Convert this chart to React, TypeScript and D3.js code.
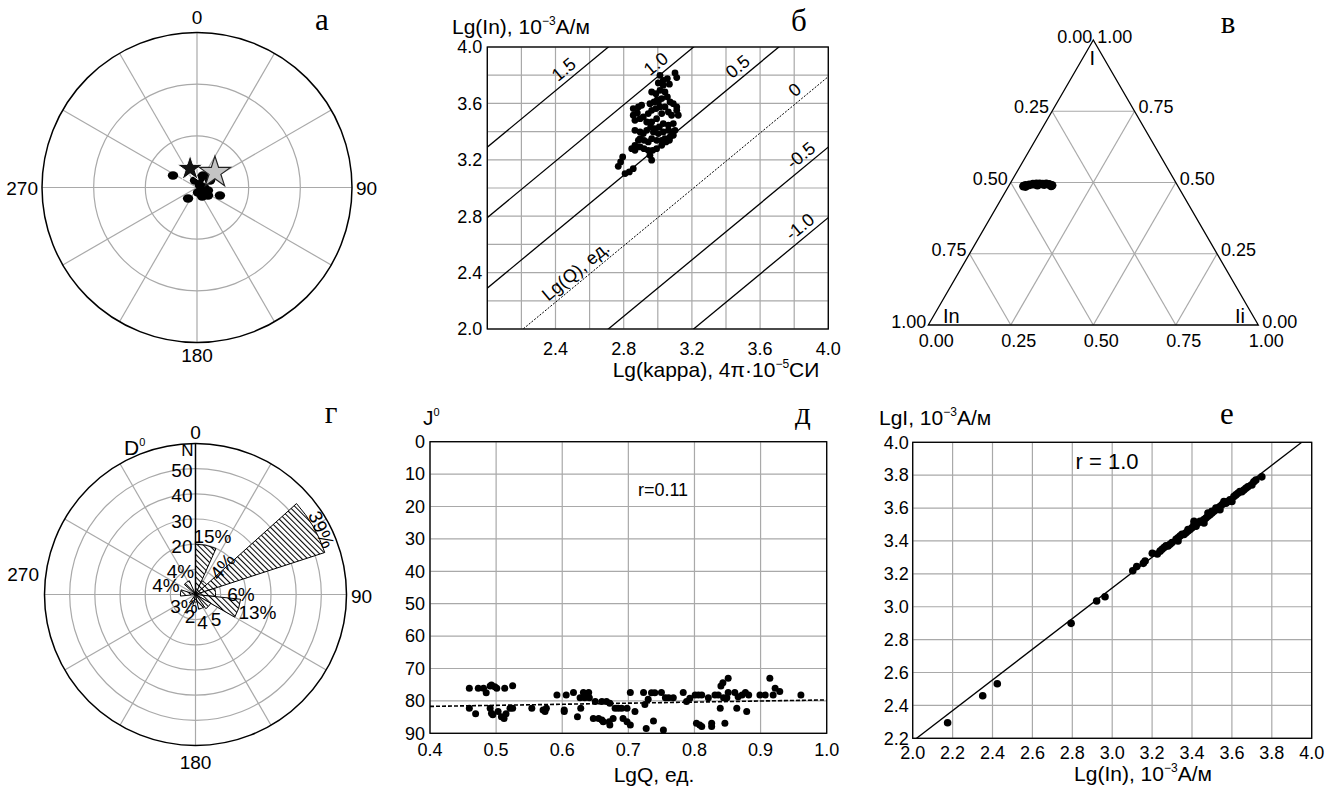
import React from 'react';
import * as d3 from 'd3';

const SANS = '"Liberation Sans", Arial, Helvetica, sans-serif';
const SERIF = '"Liberation Serif", "Times New Roman", serif';
const GRID = '#a9a9a9';
const FS = 18;

// ---------- а : directions (declination / inclination)
const aDec = [296.6, 219.3, 168.7, 105.3, 126, 109.2, 344, 26.6, 56, 61.7, 18, 90, 150, 135];
const aInc = [74.4, 81.8, 87, 83.4, 82.1, 75.9, 85.8, 82.2, 87.9, 81.4, 84.5, 85.9, 84, 86.5];
const aMeanDec = [340, 50];
const aMeanInc = [78.3, 76.4];
const aAngleTicks = [0, 90, 180, 270];

// ---------- б : Lg(In) vs Lg(kappa)
const bKappa = [3.101, 3.111, 3.056, 3.068, 3.032, 3.003, 3.013, 2.989, 2.964, 3.042, 3.056, 3.023, 2.997, 2.978, 2.954, 3.072, 3.091, 3.111, 3.042, 3.013, 2.989, 2.964, 2.944, 2.905, 2.886, 2.856, 2.88, 2.856, 2.866, 2.896, 2.915, 2.935, 2.964, 2.993, 3.023, 3.062, 3.081, 3.111, 3.12, 3.091, 3.062, 3.032, 3.009, 2.983, 2.958, 2.935, 2.915, 2.896, 2.866, 2.974, 3.003, 3.032, 3.062, 3.081, 3.072, 3.042, 3.023, 2.993, 2.964, 2.944, 2.919, 2.896, 2.886, 2.866, 2.847, 2.866, 2.896, 2.919, 2.944, 2.97, 2.993, 3.023, 3.048, 3.068, 3.091, 3.101, 2.954, 2.964, 2.794, 2.782, 2.768, 2.808, 2.833, 2.856, 3.003, 3.013, 3.032];
const bIn = [3.816, 3.783, 3.776, 3.736, 3.728, 3.745, 3.693, 3.669, 3.681, 3.681, 3.646, 3.634, 3.627, 3.61, 3.598, 3.61, 3.598, 3.575, 3.575, 3.575, 3.563, 3.551, 3.528, 3.587, 3.575, 3.563, 3.532, 3.516, 3.48, 3.492, 3.504, 3.468, 3.468, 3.492, 3.528, 3.539, 3.516, 3.551, 3.516, 3.457, 3.445, 3.457, 3.433, 3.421, 3.433, 3.409, 3.386, 3.397, 3.409, 3.397, 3.386, 3.397, 3.409, 3.397, 3.362, 3.35, 3.338, 3.338, 3.35, 3.327, 3.338, 3.35, 3.338, 3.303, 3.279, 3.267, 3.291, 3.279, 3.267, 3.267, 3.279, 3.303, 3.327, 3.338, 3.374, 3.409, 3.232, 3.197, 3.22, 3.185, 3.154, 3.102, 3.114, 3.137, 3.61, 3.799, 3.764];
const bQValues = [1.5, 1.0, 0.5, 0, -0.5, -1.0];
const bQLabels = ['1.5', '1.0', '0.5', '0', '-0.5', '-1.0'];
const bQOffset = -0.21;
const bYTicks = [2.0, 2.4, 2.8, 3.2, 3.6, 4.0];
const bXTicks = [2.4, 2.8, 3.2, 3.6, 4.0];

// ---------- в : ternary (I, In, Ii)
const vI = [0.487, 0.49, 0.492, 0.494, 0.495, 0.495, 0.494, 0.495, 0.493, 0.49, 0.488, 0.486, 0.491, 0.493];
const vIi = [0.045, 0.05, 0.06, 0.07, 0.08, 0.09, 0.1, 0.11, 0.12, 0.13, 0.128, 0.052, 0.085, 0.105];
const vTicks = [0, 0.25, 0.5, 0.75, 1];

// ---------- г : rose of declinations (24° bins, counts)
const roseBinStart = [0, 24, 48, 72, 96, 120, 144, 168, 192, 216, 240, 264, 288, 312, 336];
const roseCounts = [20, 6, 54, 8, 18, 7, 6, 3, 4, 0, 0, 6, 0, 6, 0];
const roseLabels = ['15%', '4%', '39%', '6%', '13%', '5', '4', '2', '3%', '', '', '4%', '', '4%', ''];
const roseRings = [10, 20, 30, 40, 50];
const roseMax = 60;

// ---------- д : J vs LgQ
const dQ = [0.4595, 0.4595, 0.469, 0.473, 0.481, 0.485, 0.491, 0.493, 0.498, 0.501, 0.491, 0.493, 0.495, 0.503, 0.508, 0.512, 0.513, 0.515, 0.521, 0.525, 0.525, 0.554, 0.571, 0.574, 0.576, 0.592, 0.603, 0.603, 0.606, 0.617, 0.623, 0.627, 0.628, 0.632, 0.634, 0.637, 0.64, 0.641, 0.647, 0.65, 0.655, 0.66, 0.66, 0.662, 0.667, 0.671, 0.672, 0.672, 0.677, 0.68, 0.685, 0.69, 0.692, 0.698, 0.698, 0.703, 0.703, 0.71, 0.723, 0.725, 0.727, 0.73, 0.735, 0.738, 0.74, 0.75, 0.753, 0.756, 0.761, 0.768, 0.783, 0.788, 0.793, 0.801, 0.803, 0.806, 0.808, 0.811, 0.811, 0.821, 0.826, 0.826, 0.831, 0.836, 0.839, 0.84, 0.843, 0.844, 0.846, 0.849, 0.851, 0.851, 0.861, 0.864, 0.866, 0.872, 0.877, 0.879, 0.882, 0.899, 0.907, 0.914, 0.919, 0.922, 0.929, 0.961];
const dJ = [76.1, 82.3, 84.0, 76.1, 76.1, 77.5, 75.4, 75.1, 75.6, 76.1, 82.3, 83.8, 84.3, 83.3, 84.9, 85.4, 76.1, 84.0, 82.3, 82.3, 75.3, 82.3, 82.8, 83.3, 82.3, 78.2, 82.8, 83.3, 78.2, 77.4, 84.9, 79.0, 82.3, 77.4, 79.0, 78.2, 77.4, 79.0, 85.4, 80.2, 85.4, 80.2, 85.9, 86.4, 80.2, 86.4, 87.4, 80.7, 85.4, 82.3, 82.3, 82.3, 85.4, 82.3, 86.4, 77.4, 87.4, 83.3, 77.4, 81.1, 88.5, 79.5, 77.5, 86.2, 77.5, 77.4, 89.0, 79.0, 79.0, 79.0, 77.4, 80.2, 79.2, 78.2, 86.9, 78.2, 87.4, 78.2, 87.9, 79.0, 86.9, 87.9, 78.2, 78.2, 82.3, 75.4, 74.4, 79.0, 86.9, 79.0, 73.0, 77.4, 77.4, 82.3, 78.7, 78.2, 77.4, 83.3, 78.2, 78.2, 78.2, 73.0, 78.2, 76.1, 77.1, 78.2];
const dFitQ = [0.4, 1.0];
const dFitJ = [81.7, 79.7];
const dXTicks = [0.4, 0.5, 0.6, 0.7, 0.8, 0.9, 1.0];
const dYTicks = [0, 10, 20, 30, 40, 50, 60, 70, 80, 90];

// ---------- е : LgI vs Lg(In)
const eIn = [2.175, 2.351, 2.424, 2.794, 2.922, 2.964, 3.103, 3.123, 3.156, 3.165, 3.201, 3.226, 3.24, 3.25, 3.26, 3.27, 3.28, 3.29, 3.3, 3.32, 3.33, 3.33, 3.34, 3.35, 3.36, 3.37, 3.38, 3.38, 3.39, 3.4, 3.41, 3.41, 3.42, 3.43, 3.44, 3.45, 3.46, 3.46, 3.47, 3.48, 3.48, 3.49, 3.5, 3.5, 3.51, 3.52, 3.52, 3.53, 3.54, 3.54, 3.55, 3.56, 3.56, 3.57, 3.58, 3.59, 3.6, 3.61, 3.62, 3.63, 3.64, 3.65, 3.66, 3.67, 3.68, 3.7, 3.71, 3.72, 3.75];
const eI = [2.295, 2.459, 2.532, 2.899, 3.035, 3.061, 3.219, 3.244, 3.264, 3.278, 3.325, 3.321, 3.338, 3.35, 3.36, 3.37, 3.37, 3.38, 3.39, 3.41, 3.42, 3.4, 3.43, 3.44, 3.44, 3.45, 3.46, 3.47, 3.47, 3.48, 3.5, 3.52, 3.49, 3.51, 3.52, 3.52, 3.53, 3.51, 3.54, 3.55, 3.57, 3.56, 3.57, 3.58, 3.58, 3.59, 3.6, 3.6, 3.61, 3.59, 3.62, 3.63, 3.64, 3.63, 3.64, 3.65, 3.64, 3.67, 3.68, 3.69, 3.7, 3.7, 3.71, 3.72, 3.73, 3.74, 3.76, 3.77, 3.79];
const eFitX = [2.0, 3.95];
const eFitY = [2.182, 4.0];
const eXTicks = [2.0, 2.2, 2.4, 2.6, 2.8, 3.0, 3.2, 3.4, 3.6, 3.8, 4.0];
const eYTicks = [2.2, 2.4, 2.6, 2.8, 3.0, 3.2, 3.4, 3.6, 3.8, 4.0];

const fmt1 = d3.format('.1f');
const fmt2 = d3.format('.2f');

function Letter({ x, y, t }: { x: number; y: number; t: string }) {
  return <text x={x} y={y} fontFamily={SERIF} fontSize={31} textAnchor="middle">{t}</text>;
}

function PanelA() {
  const cx = 197, cy = 187.5, R = 155;
  const r = d3.scaleLinear().domain([0, 90]).range([0, R]);
  const pos = (dec: number, inc: number) => {
    const rr = r(90 - inc);
    const a = (dec * Math.PI) / 180;
    return [cx + rr * Math.sin(a), cy - rr * Math.cos(a)];
  };
  const spokes = d3.range(0, 360, 30);
  const starBlack = d3.symbol(d3.symbolStar, 210)()!;
  const starGray = d3.symbol(d3.symbolStar, 300)()!;
  const mb = pos(aMeanDec[0], aMeanInc[0]);
  const mg = pos(aMeanDec[1], aMeanInc[1]);
  const labelPos: Record<number, [number, number, string]> = {
    0: [cx, 24, 'middle'], 90: [356, cy + 7, 'start'], 180: [cx, 362, 'middle'], 270: [38, cy + 7, 'end'],
  };
  return (
    <g>
      {spokes.map((s) => {
        const a = (s * Math.PI) / 180;
        return <line key={s} x1={cx} y1={cy} x2={cx + R * Math.sin(a)} y2={cy - R * Math.cos(a)} stroke={GRID} strokeWidth={1.2} />;
      })}
      {[R / 3, (2 * R) / 3].map((rr) => <circle key={rr} cx={cx} cy={cy} r={rr} fill="none" stroke={GRID} strokeWidth={1.2} />)}
      <circle cx={cx} cy={cy} r={R} fill="none" stroke="#000" strokeWidth={1.5} />
      {aDec.map((d, i) => {
        const [x, y] = pos(d, aInc[i]);
        return <ellipse key={i} cx={x} cy={y} rx={5.2} ry={4.2} fill="#000" />;
      })}
      <path d={starBlack} transform={`translate(${mb[0]},${mb[1]})`} fill="#111" stroke="#fff" strokeWidth={1} />
      <path d={starGray} transform={`translate(${mg[0]},${mg[1]})`} fill="#c4c4c4" stroke="#222" strokeWidth={1.2} />
      {aAngleTicks.map((t) => {
        const [x, y, anc] = labelPos[t];
        return <text key={t} x={x} y={y} fontFamily={SANS} fontSize={19} textAnchor={anc as any}>{t}</text>;
      })}
      <Letter x={322} y={30} t="а" />
    </g>
  );
}

function PanelB() {
  const x0 = 487.3, x1 = 828.3, y0 = 329, y1 = 47;
  const x = d3.scaleLinear().domain([2, 4]).range([x0, x1]);
  const y = d3.scaleLinear().domain([2, 4]).range([y0, y1]);
  const grid = d3.range(2, 4.001, 0.2);
  const ang = (-Math.atan((y(2) - y(3)) / (x(3) - x(2))) * 180) / Math.PI;
  const labelX = [2.49, 3.03, 3.51, 3.845, 3.88, 3.875];
  return (
    <g>
      <defs>
        <clipPath id="clipB"><rect x={x0} y={y1} width={x1 - x0} height={y0 - y1} /></clipPath>
      </defs>
      {grid.map((g) => <line key={'v' + g} x1={x(g)} x2={x(g)} y1={y1} y2={y0} stroke={GRID} strokeWidth={1.2} />)}
      {grid.map((g) => <line key={'h' + g} x1={x0} x2={x1} y1={y(g)} y2={y(g)} stroke={GRID} strokeWidth={1.2} />)}
      <g clipPath="url(#clipB)">
        {bQValues.map((q) => (
          <line key={q} x1={x(1.5)} y1={y(1.5 + q + bQOffset)} x2={x(4.5)} y2={y(4.5 + q + bQOffset)}
            stroke="#000" strokeWidth={q === 0 ? 1 : 1.3} strokeDasharray={q === 0 ? '2,1.5' : undefined} />
        ))}
      </g>
      <rect x={x0} y={y1} width={x1 - x0} height={y0 - y1} fill="none" stroke="#000" strokeWidth={1.3} />
      {bQValues.map((q, i) => {
        const lx = x(labelX[i]);
        const ly = y(labelX[i] + q + bQOffset);
        return (
          <text key={q} transform={`translate(${lx},${ly}) rotate(${ang})`} dy={-5} textAnchor="middle" fontFamily={SANS} fontSize={FS}>{bQLabels[i]}</text>
        );
      })}
      <text transform={`translate(${x(2.56)},${y(2.56 + bQOffset)}) rotate(${ang})`} dy={-5} textAnchor="middle" fontFamily={SANS} fontSize={FS}>Lg(Q), ед.</text>
      {bKappa.map((k, i) => <circle key={i} cx={x(k)} cy={y(bIn[i])} r={3.4} fill="#000" />)}
      {bYTicks.map((t) => <text key={t} x={x0 - 5} y={y(t)} dy="0.35em" textAnchor="end" fontFamily={SANS} fontSize={FS}>{fmt1(t)}</text>)}
      {bXTicks.map((t) => <text key={t} x={x(t)} y={y0 + 26} textAnchor="middle" fontFamily={SANS} fontSize={FS}>{fmt1(t)}</text>)}
      <text x={452} y={34} fontFamily={SANS} fontSize={21}>Lg(In), 10<tspan fontSize={12} dy={-9}>−3</tspan><tspan dy={9}>A/м</tspan></text>
      <text x={716} y={377} textAnchor="middle" fontFamily={SANS} fontSize={21}>Lg(kappa), 4π·10<tspan fontSize={12} dy={-9}>−5</tspan><tspan dy={9}>СИ</tspan></text>
      <Letter x={799} y={31} t="б" />
    </g>
  );
}

function PanelV() {
  const A = [1093.3, 40], BL = [928.3, 325], BR = [1258.3, 325];
  const P = (I: number, In: number, Ii: number) => [I * A[0] + In * BL[0] + Ii * BR[0], I * A[1] + In * BL[1] + Ii * BR[1]];
  const inner = [0.25, 0.5, 0.75];
  const lines: number[][][] = [];
  inner.forEach((t) => {
    lines.push([P(t, 1 - t, 0), P(t, 0, 1 - t)]);
    lines.push([P(1 - t, t, 0), P(0, t, 1 - t)]);
    lines.push([P(1 - t, 0, t), P(0, 1 - t, t)]);
  });
  return (
    <g>
      {lines.map((l, i) => <line key={i} x1={l[0][0]} y1={l[0][1]} x2={l[1][0]} y2={l[1][1]} stroke={GRID} strokeWidth={1.2} />)}
      <path d={`M${A[0]},${A[1]}L${BL[0]},${BL[1]}L${BR[0]},${BR[1]}Z`} fill="none" stroke="#000" strokeWidth={1.3} />
      {vI.map((I, i) => {
        const [px, py] = P(I, 1 - I - vIi[i], vIi[i]);
        return <circle key={i} cx={px} cy={py} r={4.4} fill="#000" />;
      })}
      {vTicks.filter((t) => t > 0 && t < 1).map((t) => {
        const [px, py] = P(1 - t, t, 0);
        return <text key={'l' + t} x={px - 3} y={py + 2} textAnchor="end" fontFamily={SANS} fontSize={FS}>{fmt2(t)}</text>;
      })}
      {vTicks.filter((t) => t > 0 && t < 1).map((t) => {
        const [px, py] = P(t, 0, 1 - t);
        return <text key={'r' + t} x={px + 4} y={py + 2} textAnchor="start" fontFamily={SANS} fontSize={FS}>{fmt2(t)}</text>;
      })}
      {vTicks.map((t) => {
        const [px, py] = P(0, 1 - t, t);
        return <text key={'b' + t} x={px + 8} y={py + 22} textAnchor="middle" fontFamily={SANS} fontSize={FS}>{fmt2(t)}</text>;
      })}
      <text x={BL[0] - 2} y={BL[1] + 3} textAnchor="end" fontFamily={SANS} fontSize={FS}>{fmt2(1)}</text>
      <text x={BR[0] + 4} y={BR[1] + 3} textAnchor="start" fontFamily={SANS} fontSize={FS}>{fmt2(0)}</text>
      <text x={A[0] - 1} y={43} textAnchor="end" fontFamily={SANS} fontSize={FS}>{fmt2(0)}</text>
      <text x={A[0] + 4} y={43} textAnchor="start" fontFamily={SANS} fontSize={FS}>{fmt2(1)}</text>
      <text x={A[0] - 1} y={65} textAnchor="middle" fontFamily={SANS} fontSize={20}>I</text>
      <text x={943} y={323} fontFamily={SANS} fontSize={20}>In</text>
      <text x={1235} y={323} fontFamily={SANS} fontSize={20}>Ii</text>
      <Letter x={1228} y={33} t="в" />
    </g>
  );
}

function PanelG() {
  const cx = 195.5, cy = 594.5;
  const r = d3.scaleLinear().domain([0, roseMax]).range([0, 151]);
  const arc = d3.arc<any>();
  const spokes = d3.range(30, 360, 30);
  const labelLayout: [number, number, number][] = [
    [17, -58, 0], [27, -28, -50], [126, -65, 66], [45.5, 0, 0], [62, 18, 0], [20.5, 24.5, 0], [7, 28, 0], [-5.5, 22, 0], [-11.5, 11.5, 0], [0, 0, 0], [0, 0, 0], [-29.5, -9, 0], [0, 0, 0], [-15, -23, 0], [0, 0, 0],
  ];
  return (
    <g>
      <defs>
        <pattern id="hatch" patternUnits="userSpaceOnUse" width={4} height={4} patternTransform="rotate(-45)">
          <rect width={4} height={4} fill="#fff" />
          <line x1={0.5} y1={0} x2={0.5} y2={4} stroke="#000" strokeWidth={1.1} />
        </pattern>
      </defs>
      {spokes.map((s) => {
        const a = (s * Math.PI) / 180;
        return <line key={s} x1={cx} y1={cy} x2={cx + r(roseMax) * Math.sin(a)} y2={cy - r(roseMax) * Math.cos(a)} stroke={GRID} strokeWidth={1.2} />;
      })}
      {roseRings.map((v) => <circle key={v} cx={cx} cy={cy} r={r(v)} fill="none" stroke={GRID} strokeWidth={1.2} />)}
      <circle cx={cx} cy={cy} r={r(roseMax)} fill="none" stroke="#000" strokeWidth={1.5} />
      <g transform={`translate(${cx},${cy})`}>
        {roseBinStart.map((s, i) => roseCounts[i] > 0 ? (
          <path key={s} d={arc({ innerRadius: 0, outerRadius: r(roseCounts[i]), startAngle: (s * Math.PI) / 180, endAngle: ((s + 24) * Math.PI) / 180 })!}
            fill="url(#hatch)" stroke="#000" strokeWidth={1} />
        ) : null)}
      </g>
      <line x1={cx} y1={cy} x2={cx} y2={cy - r(roseMax)} stroke="#000" strokeWidth={1.5} />
      {roseRings.filter((v) => v >= 20).map((v) => (
        <text key={v} x={cx - 3} y={cy - r(v) + 2} dy="0.35em" textAnchor="end" fontFamily={SANS} fontSize={19}>{v}</text>
      ))}
      {roseLabels.map((l, i) => l ? (
        <text key={i} transform={`translate(${cx + labelLayout[i][0]},${cy + labelLayout[i][1]}) rotate(${labelLayout[i][2]})`} dy="0.35em" textAnchor="middle" fontFamily={SANS} fontSize={19}>{l}</text>
      ) : null)}
      <text x={cx - 8} y={456} textAnchor="middle" fontFamily={SANS} fontSize={17}>N</text>
      <text x={124} y={455} fontFamily={SANS} fontSize={21}>D<tspan fontSize={11} dy={-9}>0</tspan></text>
      <text x={cx} y={439} textAnchor="middle" fontFamily={SANS} fontSize={19}>0</text>
      <text x={351} y={603} fontFamily={SANS} fontSize={19}>90</text>
      <text x={cx} y={769} textAnchor="middle" fontFamily={SANS} fontSize={19}>180</text>
      <text x={39} y={581} textAnchor="end" fontFamily={SANS} fontSize={19}>270</text>
      <Letter x={331} y={423} t="г" />
    </g>
  );
}

function PanelD() {
  const x0 = 430, x1 = 826.7, y0 = 441.7, y1 = 733.3;
  const x = d3.scaleLinear().domain([0.4, 1.0]).range([x0, x1]);
  const y = d3.scaleLinear().domain([0, 90]).range([y0, y1]);
  const line = d3.line<number>().x((_, i) => x(dFitQ[i])).y((d) => y(d));
  return (
    <g>
      {dXTicks.map((t) => <line key={'v' + t} x1={x(t)} x2={x(t)} y1={y0} y2={y1} stroke={GRID} strokeWidth={1.2} />)}
      {dYTicks.map((t) => <line key={'h' + t} x1={x0} x2={x1} y1={y(t)} y2={y(t)} stroke={GRID} strokeWidth={1.2} />)}
      <rect x={x0} y={y0} width={x1 - x0} height={y1 - y0} fill="none" stroke="#000" strokeWidth={1.3} />
      <path d={line(dFitJ)!} stroke="#000" strokeWidth={1.6} strokeDasharray="4,2" fill="none" />
      {dQ.map((q, i) => <circle key={i} cx={x(q)} cy={y(dJ[i])} r={3.5} fill="#000" />)}
      {dYTicks.map((t) => <text key={t} x={x0 - 5} y={y(t)} dy="0.35em" textAnchor="end" fontFamily={SANS} fontSize={FS}>{t}</text>)}
      {dXTicks.map((t) => <text key={t} x={x(t)} y={y1 + 23} textAnchor="middle" fontFamily={SANS} fontSize={FS}>{fmt1(t)}</text>)}
      <text x={663} y={496} textAnchor="middle" fontFamily={SANS} fontSize={18}>r=0.11</text>
      <text x={423} y={425} fontFamily={SANS} fontSize={21}>J<tspan fontSize={11} dy={-9}>0</tspan></text>
      <text x={654} y={782} textAnchor="middle" fontFamily={SANS} fontSize={21}>LgQ, ед.</text>
      <Letter x={803} y={424} t="д" />
    </g>
  );
}

function PanelE() {
  const x0 = 912.7, x1 = 1311.7, y0 = 442.3, y1 = 738.3;
  const x = d3.scaleLinear().domain([2, 4]).range([x0, x1]);
  const y = d3.scaleLinear().domain([2.2, 4]).range([y1, y0]);
  const line = d3.line<number>().x((_, i) => x(eFitX[i])).y((d) => y(d));
  return (
    <g>
      <defs>
        <clipPath id="clipE"><rect x={x0} y={y0} width={x1 - x0} height={y1 - y0} /></clipPath>
      </defs>
      {eXTicks.map((t) => <line key={'v' + t} x1={x(t)} x2={x(t)} y1={y0} y2={y1} stroke={GRID} strokeWidth={1.2} />)}
      {eYTicks.map((t) => <line key={'h' + t} x1={x0} x2={x1} y1={y(t)} y2={y(t)} stroke={GRID} strokeWidth={1.2} />)}
      <rect x={x0} y={y0} width={x1 - x0} height={y1 - y0} fill="none" stroke="#000" strokeWidth={1.3} />
      <path d={line(eFitY)!} stroke="#000" strokeWidth={1.3} fill="none" clipPath="url(#clipE)" />
      {eIn.map((v, i) => <circle key={i} cx={x(v)} cy={y(eI[i])} r={3.8} fill="#000" />)}
      {eYTicks.map((t) => <text key={t} x={x0 - 4} y={y(t)} dy="0.35em" textAnchor="end" fontFamily={SANS} fontSize={FS}>{fmt1(t)}</text>)}
      {eXTicks.map((t) => <text key={t} x={x(t)} y={y1 + 21} textAnchor="middle" fontFamily={SANS} fontSize={FS}>{fmt1(t)}</text>)}
      <text x={1107} y={469} textAnchor="middle" fontFamily={SANS} fontSize={22}>r = 1.0</text>
      <text x={879} y={425} fontFamily={SANS} fontSize={21}>LgI, 10<tspan fontSize={12} dy={-9}>−3</tspan><tspan dy={9}>A/м</tspan></text>
      <text x={1143} y={781} textAnchor="middle" fontFamily={SANS} fontSize={21}>Lg(In), 10<tspan fontSize={12} dy={-9}>−3</tspan><tspan dy={9}>A/м</tspan></text>
      <Letter x={1227} y={424} t="е" />
    </g>
  );
}

export default function App() {
  return (
    <svg width={1328} height={793} viewBox="0 0 1328 793" style={{ position: 'absolute', left: 0, top: 0, background: '#fff' }}>
      <rect width={1328} height={793} fill="#fff" />
      <PanelA />
      <PanelB />
      <PanelV />
      <PanelG />
      <PanelD />
      <PanelE />
    </svg>
  );
}
